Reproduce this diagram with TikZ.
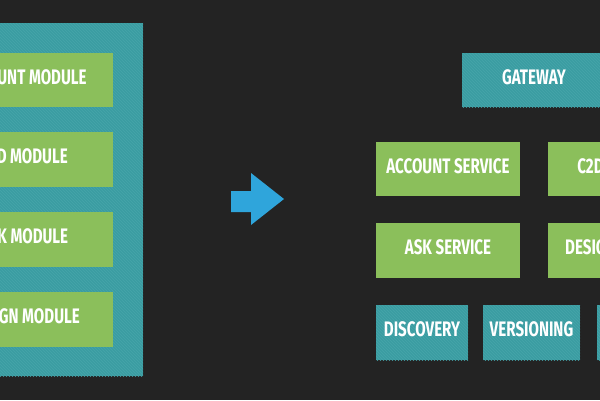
\documentclass[tikz,border=0pt]{standalone}
\usepackage{fontspec}
\newfontfamily\condfont[FakeStretch=0.72]{Fira Sans}
\usetikzlibrary{patterns}
\definecolor{bgdark}{HTML}{232323}
\definecolor{tealbox}{HTML}{3B9DA2}
\definecolor{tealstripe}{HTML}{46A5AA}
\definecolor{greenbox}{HTML}{8BBF5B}
\definecolor{arrowblue}{HTML}{2FA5DB}
\tikzset{
  lbl/.style={text=white, font=\condfont\bfseries\fontsize{21}{21}\selectfont, inner sep=0pt},
  greenrect/.style={fill=greenbox, draw=none},
  tealrect/.style={fill=tealbox, draw=none, postaction={pattern=north west lines, pattern color=tealstripe}},
}
\begin{document}
\begin{tikzpicture}[x=1pt,y=-1pt]
\useasboundingbox (0,0) rectangle (600,400);
\clip (0,0) rectangle (600,400);
\fill[bgdark] (0,0) rectangle (600,400);
% left container
\path[tealrect] (-10,23) rectangle (143,376);
% left modules
\path[greenrect] (-61,53) rectangle (113,107);
\node[lbl] (accm) at (24,77) {ACCOUNT MODULE};
\path[greenrect] (-61,132) rectangle (113,187);
\node[lbl] (c2dm) at (24,156.5) {C2D MODULE};
\path[greenrect] (-61,212) rectangle (113,267);
\node[lbl] (askm) at (24,236.5) {ASK MODULE};
\path[greenrect] (-61,292) rectangle (113,347);
\node[lbl] (desm) at (24,316.5) {DESIGN MODULE};
% arrow
\fill[arrowblue] (231,191) -- (251,191) -- (251,173) -- (284,199) -- (251,225) -- (251,212) -- (231,212) -- cycle;
% right side
\path[tealrect] (462,53) rectangle (606,107);
\node[lbl] (gw) at (534,77) {GATEWAY};
\path[greenrect] (376,142) rectangle (520,196);
\node[lbl] (accs) at (448,166) {ACCOUNT SERVICE};
\path[greenrect] (548,142) rectangle (692,196);
\node[lbl] (c2ds) at (620,166) {C2D SERVICE};
\path[greenrect] (376,223) rectangle (520,278);
\node[lbl] (asks) at (448,247.5) {ASK SERVICE};
\path[greenrect] (548,223) rectangle (692,278);
\node[lbl] (dess) at (620,247.5) {DESIGN SERVICE};
\path[tealrect] (376,305) rectangle (468,360);
\node[lbl] (disc) at (422,329.5) {DISCOVERY};
\path[tealrect] (483,305) rectangle (580,360);
\node[lbl] (vers) at (531.5,329.5) {VERSIONING};
\path[tealrect] (597,305) rectangle (700,360);
\end{tikzpicture}
\end{document}
